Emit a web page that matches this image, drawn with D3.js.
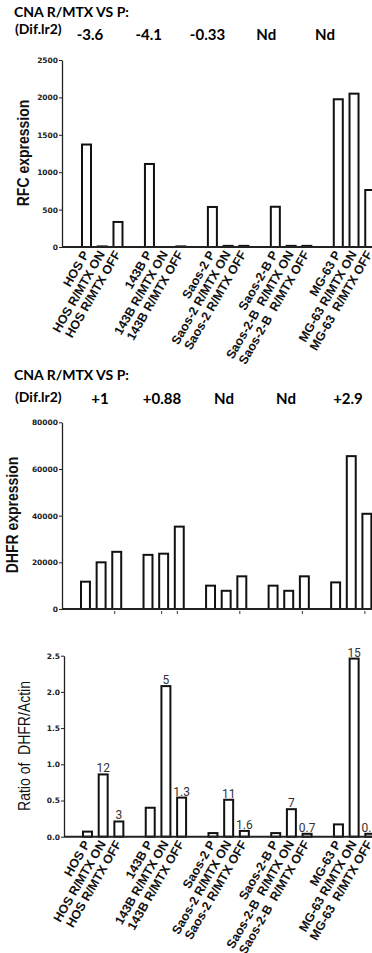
<!DOCTYPE html>
<meta charset="utf-8">
<head>
  <title>RFC / DHFR</title>
  <script src="https://d3js.org/d3.v7.min.js"></script>
</head>
<style>
  body { margin: 0; background: #fff; }
  text { white-space: pre; }
</style>
<div id="chart"></div>
<script>
  // bar order: 5 cell lines x (P, R/MTX ON, R/MTX OFF)
  var categories = ["HOS P", "HOS R/MTX ON", "HOS R/MTX OFF",
                    "143B P", "143B R/MTX ON", "143B R/MTX OFF",
                    "Saos-2 P", "Saos-2 R/MTX ON", "Saos-2 R/MTX OFF",
                    "Saos-2-B P", "Saos-2-B  R/MTX ON", "Saos-2-B  R/MTX OFF",
                    "MG-63 P", "MG-63 R/MTX ON", "MG-63  R/MTX OFF"]
  var rfcValues = [1370, 8, 335, 1110, 0, 8, 535, 15, 15, 538, 15, 15, 1975, 2050, 762]
  var dhfrValues = [11700, 20000, 24500, 23200, 23700, 35300, 10000, 7800, 14000, 10000, 7800, 14000, 11400, 65500, 40800]
  var ratioValues = [0.07, 0.86, 0.21, 0.40, 2.08, 0.54, 0.05, 0.51, 0.08, 0.05, 0.38, 0.04, 0.17, 2.46, 0.04]
  var ratioLabels = ["", "12", "3", "", "5", "1.3", "", "11", "1.6", "", "7", "0.7", "", "15", "0.3"]
  var rfcDiff = ["-3.6", "-4.1", "-0.33", "Nd", "Nd"]
  var dhfrDiff = ["+1", "+0.88", "Nd", "Nd", "+2.9"]
  var rfcTicks = [0, 500, 1000, 1500, 2000, 2500]
  var dhfrTicks = [0, 20000, 40000, 60000, 80000]
  var ratioTicks = [0, 0.5, 1.0, 1.5, 2.0, 2.5]

  var width = 372, height = 953

  var svg = d3.select("#chart")
    .append("svg")
      .attr("width", width)
      .attr("height", height)
      .style("font-family", "'Liberation Sans', Arial, sans-serif")

  svg.append("rect").attr("width", width).attr("height", height).attr("fill", "#fff")

  // slot index of each bar: 3 bars then an empty slot
  function slot(i) { return Math.floor(i / 3) * 4 + i % 3 }

  function header(y1, y2, y3, diffs, xs) {
    svg.append("text")
      .attr("x", 14).attr("y", y1)
      .style("font-family", "Lato, 'Open Sans', sans-serif")
      .style("font-weight", "bold").style("font-size", "14px")
      .text("CNA R/MTX VS P:")
    svg.append("text")
      .attr("x", 15).attr("y", y2)
      .style("font-family", "Lato, 'Open Sans', sans-serif")
      .style("font-weight", "bold").style("font-size", "14px")
      .text("(Dif.lr2)")
    svg.selectAll(null)
      .data(diffs)
      .join("text")
        .attr("x", (d, i) => xs(i))
        .attr("y", y3)
        .attr("text-anchor", "middle")
        .style("font-family", "Lato, 'Open Sans', sans-serif")
        .style("font-weight", "bold").style("font-size", "15px")
        .text(d => d)
  }

  function panel(o) {
    var x = d3.scaleBand()
      .domain(d3.range(20))
      .range([o.x0, o.x0 + 20 * o.step])
      .paddingInner(0.3)
      .paddingOuter(0)

    var y = d3.scaleLinear().domain(o.domain).range(o.range)

    var g = svg.append("g")

    // y axis
    var ax = g.append("g")
      .attr("transform", "translate(" + o.axisX + ",0)")
      .call(d3.axisLeft(y).tickValues(o.ticks).tickSize(3).tickPadding(1).tickSizeOuter(0).tickFormat(o.fmt))
    ax.select(".domain").attr("stroke", "#222").attr("stroke-width", 1.3)
    ax.selectAll(".tick line").attr("stroke", "#222").attr("stroke-width", 1)
    ax.selectAll(".tick text")
      .attr("fill", "#222")
      .style("font-family", "'DejaVu Sans', sans-serif")
      .style("font-weight", "bold")
      .style("font-size", "7.5px")

    // bars
    var bars = o.values.map((v, i) => ({v: v, i: i})).filter(d => d.v > 0)
    g.selectAll("rect.bar")
      .data(bars)
      .join("rect")
        .attr("class", "bar")
        .attr("x", d => x(slot(d.i)) + 1)
        .attr("width", x.bandwidth() - 2)
        .attr("y", d => y(d.v))
        .attr("height", d => y(0) - y(d.v))
        .attr("fill", "#fff")
        .attr("stroke", "#111")
        .attr("stroke-width", 2)

    // x axis line
    g.append("line")
      .attr("x1", o.axisX).attr("x2", 380)
      .attr("y1", y(0)).attr("y2", y(0))
      .attr("stroke", "#222").attr("stroke-width", 2)

    // y title
    g.append("text")
      .attr("transform", "translate(" + o.titleX + "," + o.titleY + ") scale(1.2,1) rotate(-90)")
      .attr("text-anchor", "middle")
      .style("font-size", "14px")
      .style("font-weight", o.titleWeight)
      .attr("fill", "#111")
      .text(o.title)

    if (o.xLabels) {
      g.selectAll("text.xl")
        .data(categories)
        .join("text")
          .attr("class", "xl")
          .attr("text-anchor", "end")
          .attr("transform", (d, i) => "translate(" + (x(slot(i)) + x.bandwidth() / 2 + 3) + "," + (y(0) + 7) + ") rotate(-60)")
          .style("font-size", "12.5px")
          .style("font-weight", "bold")
          .attr("fill", "#111")
          .text(d => d)
    }

    if (o.smallTicks) {
      g.selectAll("line.st")
        .data(o.smallTicks)
        .join("line")
          .attr("class", "st")
          .attr("x1", d => x(slot(d)) + x.bandwidth() / 2 - 2)
          .attr("x2", d => x(slot(d)) + x.bandwidth() / 2 - 2)
          .attr("y1", y(0) + 2).attr("y2", y(0) + 5)
          .attr("stroke", "#333").attr("stroke-width", 1)
    }

    if (o.barLabels) {
      g.selectAll("text.bl")
        .data(o.values.map((v, i) => ({v: v, i: i, t: o.barLabels[i]})).filter(d => d.t))
        .join("text")
          .attr("class", "bl")
          .attr("x", d => x(slot(d.i)) + x.bandwidth() / 2)
          .attr("y", d => y(d.v) - 2)
          .attr("text-anchor", "middle")
          .style("font-family", "Roboto, sans-serif")
          .style("font-size", "12px")
          .attr("fill", "#333")
          .text(d => d.t)
    }
  }

  header(17, 33.5, 40, rfcDiff, d3.scaleLinear().domain([0, 4]).range([90, 325]))
  panel({
    values: rfcValues, domain: [0, 2500], range: [247, 60], ticks: rfcTicks, fmt: d3.format("d"),
    x0: 81, step: 15.5, axisX: 62,
    title: "RFC expression", titleX: 29, titleY: 153, titleWeight: "bold",
    xLabels: true
  })

  header(380, 402, 404, dhfrDiff, d3.scaleLinear().domain([0, 4]).range([100, 348]))
  panel({
    values: dhfrValues, domain: [0, 80000], range: [609, 422.3], ticks: dhfrTicks, fmt: d3.format("d"),
    x0: 80, step: 15.4, axisX: 62,
    title: "DHFR expression", titleX: 18, titleY: 515, titleWeight: "bold",
    smallTicks: [2, 4, 5, 8, 11, 14]
  })

  panel({
    values: ratioValues, domain: [0, 2.5], range: [836.7, 655.7], ticks: ratioTicks, fmt: d3.format(".1f"),
    x0: 82, step: 15.45, axisX: 64,
    title: "Ratio of  DHFR/Actin", titleX: 30, titleY: 746, titleWeight: "normal",
    xLabels: true, barLabels: ratioLabels
  })
</script>
